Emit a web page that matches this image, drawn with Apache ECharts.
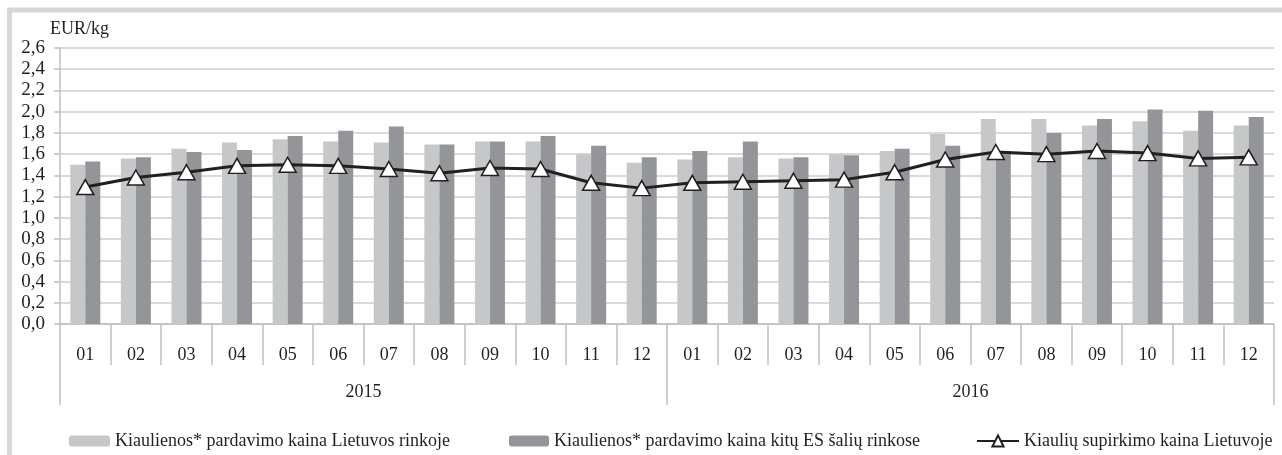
<!DOCTYPE html>
<html>
<head>
<meta charset="utf-8">
<script src="https://cdn.jsdelivr.net/npm/echarts@6.0.0/dist/echarts.min.js"></script>
<style>
    html, body { margin: 0; padding: 0; background: #ffffff; }
    #chart { width: 1282px; height: 455px; }
</style>
</head>
<body>
<div id="chart"></div>
<script>
const months = ["01", "02", "03", "04", "05", "06", "07", "08", "09", "10", "11", "12",
                "01", "02", "03", "04", "05", "06", "07", "08", "09", "10", "11", "12"];
const years = ["2015", "2016"];

// Kiaulienos* pardavimo kaina Lietuvos rinkoje
const ltPrice = [1.50, 1.56, 1.65, 1.71, 1.74, 1.72, 1.71, 1.69, 1.72, 1.72, 1.60, 1.52,
                 1.55, 1.57, 1.56, 1.60, 1.63, 1.79, 1.93, 1.93, 1.87, 1.91, 1.82, 1.87];
// Kiaulienos* pardavimo kaina kitų ES šalių rinkose
const euPrice = [1.53, 1.57, 1.62, 1.64, 1.77, 1.82, 1.86, 1.69, 1.72, 1.77, 1.68, 1.57,
                 1.63, 1.72, 1.57, 1.59, 1.65, 1.68, 1.61, 1.80, 1.93, 2.02, 2.01, 1.95];
// Kiaulių supirkimo kaina Lietuvoje
const buyPrice = [1.29, 1.38, 1.43, 1.49, 1.50, 1.49, 1.46, 1.42, 1.47, 1.46, 1.33, 1.28,
                  1.33, 1.34, 1.35, 1.36, 1.43, 1.55, 1.62, 1.60, 1.63, 1.61, 1.56, 1.57];

const seriesNames = [
    "Kiaulienos* pardavimo kaina Lietuvos rinkoje",
    "Kiaulienos* pardavimo kaina kitų ES šalių rinkose",
    "Kiaulių supirkimo kaina Lietuvoje",
];

const font = "'Liberation Serif', 'Times New Roman', serif";
const axisGray = "#bfbfbf";
const textColor = "#231f20";

const chart = echarts.init(document.getElementById("chart"), null, { renderer: "canvas" });

const legendText = { fontFamily: font, fontSize: 18, color: textColor };

chart.setOption({
    animation: false,
    textStyle: { fontFamily: font },
    graphic: [{
        type: "rect",
        shape: { x: 9.5, y: 10, width: 2000, height: 2000 },
        style: { fill: "none", stroke: "#d6d6d6", lineWidth: 5 },
        silent: true,
    }],
    grid: { left: 60, right: 8, top: 48, bottom: 131 },
    legend: [
        {
            data: [seriesNames[0]],
            left: 64, top: 427,
            itemWidth: 41, itemHeight: 11,
            textStyle: legendText,
        },
        {
            data: [seriesNames[1]],
            left: 504, top: 427,
            itemWidth: 40, itemHeight: 11,
            textStyle: legendText,
        },
        {
            data: [seriesNames[2]],
            left: 971, top: 427,
            itemWidth: 42, itemHeight: 14,
            itemGap: 0,
            textStyle: legendText,
        },
    ],
    xAxis: [
        {
            type: "category",
            data: months,
            axisLine: { lineStyle: { color: axisGray, width: 1.5 } },
            axisTick: { show: true, length: 41, interval: 0, lineStyle: { color: axisGray, width: 1.5 } },
            axisLabel: { interval: 0, margin: 22, fontFamily: font, fontSize: 18, color: textColor },
        },
        {
            type: "category",
            data: years,
            position: "bottom",
            axisLine: { show: false },
            axisTick: { show: true, length: 81, lineStyle: { color: axisGray, width: 1.5 } },
            axisLabel: { margin: 59, fontFamily: font, fontSize: 18, color: textColor },
        },
    ],
    yAxis: {
        type: "value",
        min: 0,
        max: 2.6,
        interval: 0.2,
        name: "EUR/kg",
        nameLocation: "end",
        nameGap: 5,
        nameTextStyle: { fontFamily: font, fontSize: 18, color: textColor, align: "left", padding: [0, 0, 0, -10] },
        axisLine: { show: true, lineStyle: { color: axisGray, width: 1.5 } },
        axisTick: { show: true, length: 6, lineStyle: { color: axisGray, width: 1.5 } },
        axisLabel: {
            margin: 15,
            fontFamily: font,
            fontSize: 19,
            color: textColor,
            formatter: (v) => v.toFixed(1).replace(".", ","),
        },
        splitLine: { lineStyle: { color: "#dadada", width: 2 } },
    },
    series: [
        {
            name: seriesNames[0],
            type: "bar",
            data: ltPrice,
            barWidth: 15,
            barGap: "0%",
            itemStyle: { color: "#c6c7c9" },
        },
        {
            name: seriesNames[1],
            type: "bar",
            data: euPrice,
            barWidth: 15,
            barGap: "0%",
            itemStyle: { color: "#939598" },
        },
        {
            name: seriesNames[2],
            type: "line",
            data: buyPrice,
            z: 5,
            symbol: "triangle",
            symbolSize: [17, 15],
            lineStyle: { color: "#231f20", width: 3 },
            itemStyle: { color: "#ffffff", borderColor: "#231f20", borderWidth: 1.5 },
        },
    ],
});
</script>
</body>
</html>
